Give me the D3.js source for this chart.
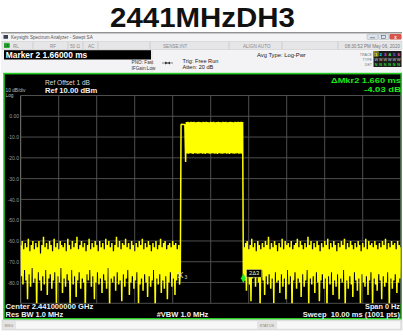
<!DOCTYPE html>
<html><head><meta charset="utf-8">
<script src="https://cdn.jsdelivr.net/npm/d3@7"></script>
<style>
html,body{margin:0;padding:0;background:#fff;overflow:hidden}
svg{display:block;font-family:"Liberation Sans",Arial,sans-serif}
</style></head>
<body><svg id="c" width="403" height="336"></svg>
<script>
// ---------- data ----------
const chartTitle = "2441MHzDH3";
const sweepMs = [0, 10];
const levelRangeDbm = [10, -90];
const sampleStepMs = 0.02;
const xGridMs = [0,1,2,3,4,5,6,7,8,9,10];
const yGridDbm = [10,0,-10,-20,-30,-40,-50,-60,-70,-80,-90];
const yTickValues = [0,-10,-20,-30,-40,-50,-60,-70,-80];
const yTickLabels = ["0.00","-10.0","-20.0","-30.0","-40.0","-50.0","-60.0","-70.0","-80.0"];

const leftNoiseStartMs = 0;
const leftNoiseDbm = [
-62,-77,-60,-81,-64,-74,-61,-79,-63,-88,
-59,-76,-65,-82,-62,-73,-60,-80,-64,-78,
-61,-93,-63,-75,-60,-79,-66,-84,-62,-77,
-58,-81,-63,-74,-61,-86,-64,-78,-60,-76,
-62,-83,-65,-79,-59,-75,-63,-90,-61,-77,
-64,-80,-60,-73,-62,-85,-63,-78,-61,-82,
-65,-76,-59,-79,-62,-91,-64,-74,-60,-81,
-63,-77,-61,-87,-58,-79,-64,-75,-62,-83,
-60,-78,-63,-80,-61,-94,-65,-76,-62,-79,
-59,-74,-64,-82,-61,-77,-63,-88,-60,-80,
-62,-75,-65,-81,-60,-78,-63,-85,-61,-76,
-64,-79,-59,-83,-62,-73,-60,-92,-63,-78,
-61,-80,-65,-77,-62,-84,-58,-75,-63,-81,
-60,-79,-64,-89,-61,-76,-62,-82,-59,-78,
-63,-74,-61,-86,-64,-80,-60,-77,-62,-83,
-65,-79,-61,-75,-63,-90,-60,-81,-62,-78,
-59,-84,-64,-76,-61,-80,-63,-87,-60,-77,
-62,-82,-65,-79,-61,-74,-63,-93,-60,-78,
-64,-81,-62,-76,-59,-85,-63,-79,-61,-83,
-60,-77,-64,-88,-62,-80,-61,-75,-63,-82,
-60,-78,-62,-86,-61,-79,-64,-76,-62,-81,
-76];

const burstStartMs = 4.22;
const burstDbm = [
-3.9,-3.8,-3.9,-3.9,-4.0,-3.9,
-22.0,
-2.8,-17.9,-2.7,-18.0,-2.9,-17.8,-2.7,-17.9,-2.8,-18.1,
-2.7,-17.8,-2.9,-17.9,-2.8,-18.0,-2.7,-17.9,-2.8,-17.8,
-2.9,-18.0,-2.7,-17.9,-2.8,-18.1,-2.7,-17.8,-2.8,-17.9,
-2.9,-18.0,-2.7,-17.9,-2.8,-17.8,-2.7,-18.0,-2.9,-17.9,
-2.8,-18.1,-2.7,-17.8,-2.8,-17.9,-2.9,-18.0,-2.7,-17.9,
-2.8,-17.8,-2.7,-18.0,-2.9,-17.9,-2.8,-18.1,-2.7,-17.8,
-2.8,-17.9,-2.9,-18.0,-2.7,-17.9,-2.8,-17.8,-2.7,-18.0,
-2.8,-17.9,-2.7,-18.0,-2.8];

const rightNoiseStartMs = 5.86;
const rightNoiseDbm = [
-78,-63,-79,-61,-84,-60,-76,-64,-81,-62,
-89,-59,-78,-63,-75,-61,-82,-65,-77,-60,
-80,-62,-92,-64,-74,-61,-79,-63,-86,-60,
-77,-62,-81,-58,-76,-64,-83,-61,-78,-63,
-90,-60,-75,-62,-80,-65,-79,-61,-85,-63,
-76,-59,-82,-64,-78,-60,-88,-62,-74,-61,
-81,-63,-77,-60,-93,-64,-79,-62,-75,-61,
-83,-59,-78,-63,-80,-60,-87,-62,-76,-64,
-82,-61,-79,-63,-74,-58,-91,-62,-78,-60,
-81,-64,-77,-61,-85,-63,-75,-60,-80,-62,
-89,-65,-79,-61,-76,-63,-83,-60,-78,-62,
-94,-59,-77,-64,-81,-61,-75,-63,-86,-60,
-79,-62,-82,-65,-76,-61,-88,-63,-78,-60,
-80,-62,-74,-59,-92,-64,-79,-61,-83,-63,
-77,-60,-81,-62,-87,-64,-75,-61,-79,-63,
-84,-60,-78,-62,-90,-65,-76,-61,-80,-63,
-82,-59,-77,-64,-86,-60,-79,-62,-75,-61,
-91,-63,-78,-60,-81,-62,-84,-64,-76,-61,
-79,-63,-88,-60,-77,-62,-82,-59,-80,-64,
-75,-61,-93,-63,-78,-60,-83,-62,-79,-61,
-76,-64,-85,-60,-80,-62,-78,-63];

const markerNames = ["3","2"];
const markerTimesMs = [4.20, 5.86];
const markerLevelsDbm = [-76, -78];

// ---------- drawing ----------
const svg = d3.select("#c");
const W = 403, H = 336;
const x = d3.scaleLinear().domain(sweepMs).range([20.7, 400.7]);
const y = d3.scaleLinear().domain(levelRangeDbm).range([95.5, 303.3]);

svg.append("rect").attr("width",W).attr("height",H).attr("fill","#fff");

// title
svg.append("text").attr("x",202.5).attr("y",26.7).attr("text-anchor","middle")
  .attr("font-size",28).attr("font-weight","bold").attr("fill","#111")
  .attr("textLength",185).attr("lengthAdjust","spacingAndGlyphs").text(chartTitle);

// window header
const hdr = svg.append("g");
hdr.append("rect").attr("x",1).attr("y",32.5).attr("width",401).attr("height",41).attr("fill","#f3f3f5");
hdr.append("line").attr("x1",1).attr("x2",402).attr("y1",32.8).attr("y2",32.8).attr("stroke","#444").attr("stroke-width",0.8);
hdr.append("rect").attr("x",3.5).attr("y",35).attr("width",4.5).attr("height",3.8).attr("fill","#3a3f58");
hdr.append("text").attr("x",11).attr("y",38.8).attr("font-size",4.6).attr("fill","#555").text("Keysight Spectrum Analyzer - Swept SA");
// window buttons
hdr.append("rect").attr("x",367).attr("y",34).attr("width",11).attr("height",5.5).attr("rx",1).attr("fill","#dde3ec").attr("stroke","#9aa").attr("stroke-width",0.4);
hdr.append("rect").attr("x",378.5).attr("y",34).attr("width",10.5).attr("height",5.5).attr("rx",1).attr("fill","#dde3ec").attr("stroke","#9aa").attr("stroke-width",0.4);
hdr.append("rect").attr("x",389.5).attr("y",34).attr("width",12).attr("height",5.5).attr("rx",1).attr("fill","#d8544a");
hdr.append("line").attr("x1",370).attr("x2",375).attr("y1",37.8).attr("y2",37.8).attr("stroke","#445").attr("stroke-width",0.6);
hdr.append("rect").attr("x",381.5).attr("y",35.3).attr("width",4).attr("height",3).attr("fill","none").attr("stroke","#445").attr("stroke-width",0.5);
hdr.append("text").attr("x",395.5).attr("y",38.7).attr("text-anchor","middle").attr("font-size",4.5).attr("fill","#fff").attr("font-weight","bold").text("x");

// status row
hdr.append("rect").attr("x",2).attr("y",41.5).attr("width",400).attr("height",8).attr("fill","#e6e6e8").attr("stroke","#c8c8c8").attr("stroke-width",0.5);
[33,68,83,98,150,229,282,338].forEach(sx=>{
  hdr.append("line").attr("x1",sx).attr("x2",sx).attr("y1",41.8).attr("y2",49.2).attr("stroke","#bdbdbd").attr("stroke-width",0.6);
});
hdr.append("rect").attr("x",4).attr("y",42.8).attr("width",5.5).attr("height",5.2).attr("fill","#2fae2f");
hdr.append("text").attr("x",4.6).attr("y",47.2).attr("font-size",3.2).attr("font-weight","bold").attr("fill","#053").text("LXI");
const rowTxt = [["RL",13],["RF",50],["50 Ω",70],["AC",88],["SENSE:INT",163],["ALIGN AUTO",243]];
rowTxt.forEach(([t,tx])=>hdr.append("text").attr("x",tx).attr("y",47.6).attr("font-size",4.6).attr("fill","#8a8a8a").text(t));
hdr.append("text").attr("x",400).attr("y",47.6).attr("text-anchor","end").attr("font-size",4.6).attr("fill","#777").text("08:30:52 PM May 06, 2020");

// marker box
hdr.append("rect").attr("x",4).attr("y",50.2).attr("width",147).attr("height",9.3).attr("fill","#000");
hdr.append("text").attr("x",5.8).attr("y",57.9).attr("font-size",8.4).attr("font-weight","bold").attr("fill","#fff").text("Marker 2 1.66000 ms");
hdr.append("line").attr("x1",152).attr("x2",152).attr("y1",50).attr("y2",72).attr("stroke","#ccc").attr("stroke-width",0.5);

hdr.append("text").attr("x",131.5).attr("y",64.2).attr("font-size",4.7).attr("fill","#333").text("PNO: Fast");
hdr.append("text").attr("x",131.5).attr("y",70.2).attr("font-size",4.7).attr("fill","#333").text("IFGain:Low");
hdr.append("line").attr("x1",162).attr("x2",173).attr("y1",63).attr("y2",63).attr("stroke","#333").attr("stroke-width",0.6);
hdr.append("path").attr("d","M165,61.6 L168,63 L165,64.4 Z M170,61.6 L167.6,63 L170,64.4 Z").attr("fill","#333");
hdr.append("text").attr("x",182.5).attr("y",63.2).attr("font-size",5.6).attr("fill","#222").text("Trig: Free Run");
hdr.append("text").attr("x",182.5).attr("y",69.4).attr("font-size",5.6).attr("fill","#222").text("Atten: 20 dB");
hdr.append("text").attr("x",257).attr("y",57).attr("font-size",5.8).attr("fill","#222").text("Avg Type: Log-Pwr");

// trace legend box
[["TRACE",55.5],["TYPE",60.5],["DET",65.5]].forEach(([t,ty])=>hdr.append("text").attr("x",372).attr("y",ty).attr("text-anchor","end").attr("font-size",3.6).attr("fill","#777").text(t));
hdr.append("rect").attr("x",373.5).attr("y",51).attr("width",28).attr("height",16).attr("fill","#1c1c1c");
const trColors = ["#ffff00","#00e5ff","#ff40ff","#33ff66","#6666ff","#ff55aa"];
trColors.forEach((c,i)=>{
  const cx = 376.2 + i*4.5;
  if(i===0) hdr.append("rect").attr("x",cx-2).attr("y",51.6).attr("width",4).attr("height",4.6).attr("fill","#666").attr("stroke","#ff0").attr("stroke-width",0.3);
  hdr.append("text").attr("x",cx).attr("y",55.6).attr("text-anchor","middle").attr("font-size",4.4).attr("font-weight","bold").attr("fill",c).text(String(i+1));
  hdr.append("text").attr("x",cx).attr("y",60.8).attr("text-anchor","middle").attr("font-size",3.8).attr("fill","#ddd").text("W");
  hdr.append("text").attr("x",cx).attr("y",65.8).attr("text-anchor","middle").attr("font-size",3.8).attr("font-weight","bold").attr("fill","#2fd02f").text("N");
});

// plot panel
svg.append("rect").attr("x",4).attr("y",73.6).attr("width",397.2).attr("height",245.2)
  .attr("fill","#000").attr("stroke","#22cc22").attr("stroke-width",1.6);

// grid
const grid = svg.append("g");
grid.selectAll("line.v").data(xGridMs).join("line")
  .attr("x1",d=>x(d)).attr("x2",d=>x(d)).attr("y1",y(levelRangeDbm[0])).attr("y2",y(levelRangeDbm[1]))
  .attr("stroke",(d,i)=>i===0?"#8a8a8a":"#575757").attr("stroke-width",0.9);
grid.selectAll("line.h").data(yGridDbm).join("line")
  .attr("x1",x(sweepMs[0])).attr("x2",x(sweepMs[1])).attr("y1",d=>y(d)).attr("y2",d=>y(d))
  .attr("stroke","#575757").attr("stroke-width",0.9);

// y axis labels
const yAxis = d3.axisLeft(y).tickValues(yTickValues).tickFormat((d,i)=>yTickLabels[i]).tickSize(0).tickPadding(1.7);
const ya = svg.append("g").attr("transform",`translate(${x(0)},0)`).call(yAxis);
ya.select(".domain").remove();
ya.selectAll("text").attr("font-size",5).attr("fill","#9a9a9a").attr("font-family","Liberation Sans, Arial, sans-serif");

// plot texts
svg.append("text").attr("x",45).attr("y",84.8).attr("font-size",6.6).attr("fill","#dcdcdc").text("Ref Offset 1 dB");
svg.append("text").attr("x",45).attr("y",93).attr("font-size",7.6).attr("font-weight","bold").attr("fill","#f2f2f2").text("Ref 10.00 dBm");
svg.append("text").attr("x",5.5).attr("y",91.6).attr("font-size",4.8).attr("fill","#bdbdbd").text("10 dB/div");
svg.append("text").attr("x",5.5).attr("y",97.4).attr("font-size",4.8).attr("fill","#bdbdbd").text("Log");
svg.append("text").attr("x",401).attr("y",82.6).attr("text-anchor","end").attr("font-size",8).attr("font-weight","bold").attr("fill","#1fe51f")
  .attr("textLength",70).attr("lengthAdjust","spacingAndGlyphs").text("ΔMkr2 1.660 ms");
svg.append("text").attr("x",401).attr("y",91.6).attr("text-anchor","end").attr("font-size",8).attr("font-weight","bold").attr("fill","#1fe51f")
  .attr("textLength",37).attr("lengthAdjust","spacingAndGlyphs").text("-4.03 dB");

// trace
const trace = [];
leftNoiseDbm.forEach((v,i)=>trace.push({t:leftNoiseStartMs+i*sampleStepMs, v}));
burstDbm.forEach((v,i)=>trace.push({t:burstStartMs+i*sampleStepMs, v}));
rightNoiseDbm.forEach((v,i)=>trace.push({t:rightNoiseStartMs+i*sampleStepMs, v}));
svg.append("clipPath").attr("id","pc").append("rect")
  .attr("x",x(0)).attr("y",y(10)).attr("width",x(10)-x(0)).attr("height",y(-90)-y(10));
svg.append("path").datum(trace).attr("clip-path","url(#pc)")
  .attr("d",d3.line().x(d=>x(d.t)).y(d=>y(d.v)))
  .attr("fill","none").attr("stroke","#ffff00").attr("stroke-width",1.5).attr("stroke-linejoin","bevel");

// markers
const m3x = x(markerTimesMs[0]), m3y = y(markerLevelsDbm[0]);
svg.append("text").attr("x",m3x).attr("y",m3y+3.5).attr("text-anchor","middle").attr("font-size",9.5).attr("fill","#d8d8d8").text("X");
svg.append("text").attr("x",m3x+4.2).attr("y",m3y+5.2).attr("font-size",5).attr("fill","#d8d8d8").text(markerNames[0]);
const m2x = x(markerTimesMs[1]), m2y = y(markerLevelsDbm[1]);
svg.append("path").attr("d",`M${m2x},${m2y-5} L${m2x+2.4},${m2y} L${m2x},${m2y+5} L${m2x-2.4},${m2y} Z`).attr("fill","#22ee22");
svg.append("rect").attr("x",m2x+3.2).attr("y",m2y-8.8).attr("width",15).attr("height",7.6).attr("fill","#000").attr("stroke","#d0d0a0").attr("stroke-width",0.5);
svg.append("text").attr("x",m2x+10.7).attr("y",m2y-3).attr("text-anchor","middle").attr("font-size",5.8).attr("fill","#f0f0c0").text(markerNames[1]+"Δ"+markerNames[0]);

// bottom annotations
const bt = [["Center 2.441000000 GHz",5.6,309.4,"start",87.6],["Res BW 1.0 MHz",5.6,316.9,"start",57.5],
  ["#VBW 1.0 MHz",156.7,316.9,"start",51.6],["Span 0 Hz",400,309.4,"end",35],["Sweep  10.00 ms (1001 pts)",400,316.9,"end",97.3]];
bt.forEach(([t,tx,ty,a,len])=>svg.append("text").attr("x",tx).attr("y",ty).attr("text-anchor",a)
  .attr("font-size",6.6).attr("font-weight","bold").attr("fill","#f0f0f0").style("white-space","pre")
  .attr("textLength",len).attr("lengthAdjust","spacingAndGlyphs").text(t));

// status bar
svg.append("rect").attr("x",2).attr("y",320).attr("width",400).attr("height",10).attr("fill","#e4e4e4").attr("stroke","#c8c8c8").attr("stroke-width",0.5);
svg.append("rect").attr("x",16).attr("y",321.3).attr("width",241).attr("height",7.4).attr("fill","#f7f7f7");
svg.append("rect").attr("x",277).attr("y",321.3).attr("width",123).attr("height",7.4).attr("fill","#f7f7f7");
svg.append("text").attr("x",4.5).attr("y",326.8).attr("font-size",3.8).attr("fill","#888").text("MSG");
svg.append("text").attr("x",259.5).attr("y",326.8).attr("font-size",3.8).attr("fill","#888").text("STATUS");
</script></body></html>
